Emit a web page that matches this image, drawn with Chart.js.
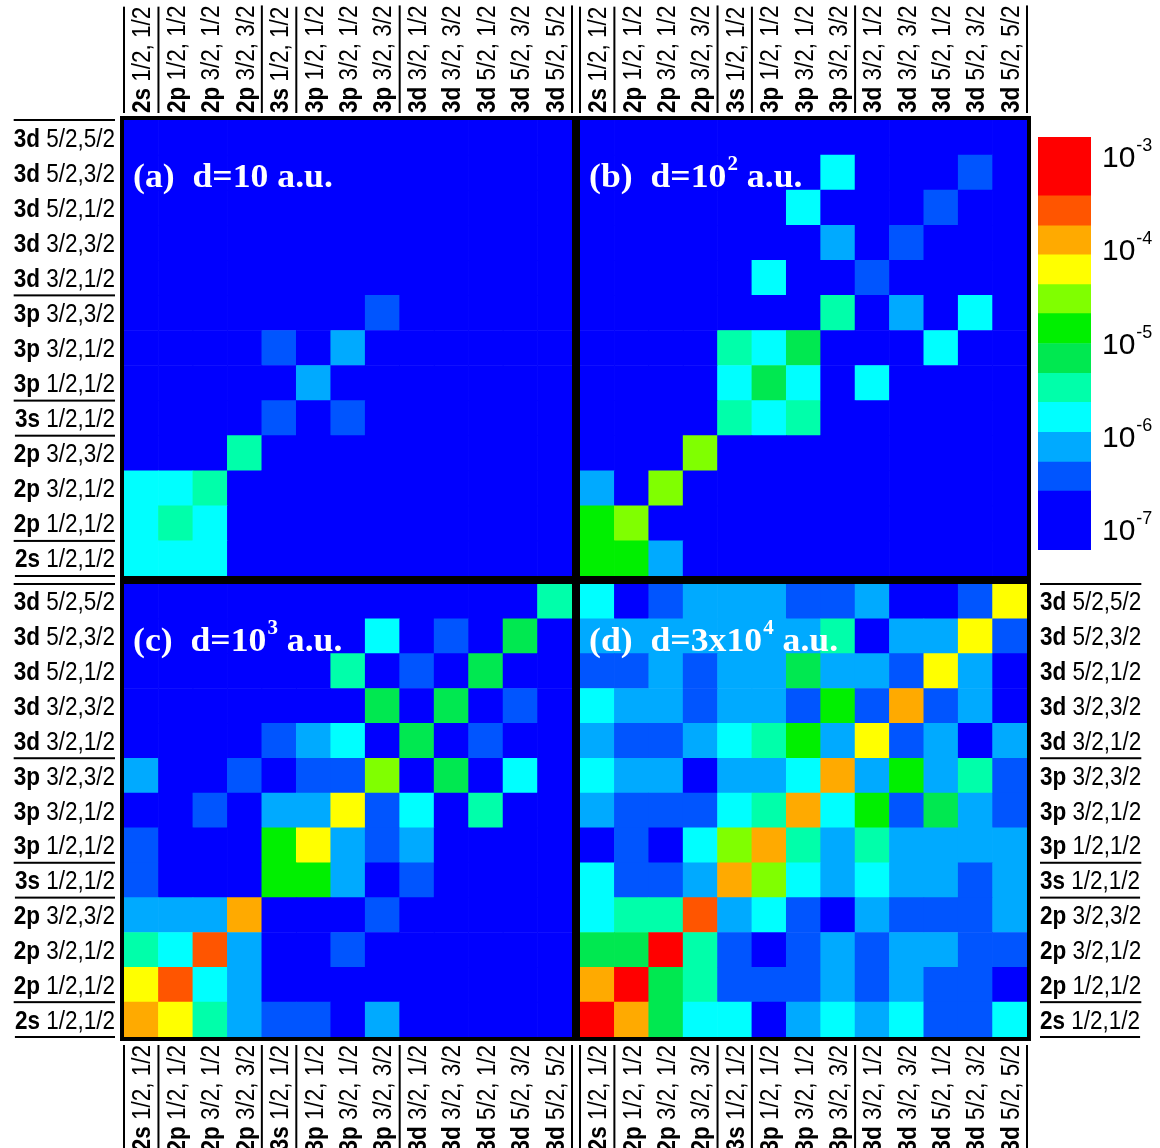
<!DOCTYPE html>
<html>
<head>
<meta charset="utf-8">
<script src="https://cdn.jsdelivr.net/npm/chart.js@4.4.1/dist/chart.umd.min.js"></script>
<style>
  body { margin: 0; background: #fff; }
  #wrap { position: relative; width: 1160px; height: 1148px; overflow: hidden; }
  #wrap canvas { position: absolute; }
</style>
</head>
<body>
<div id="wrap">
  <canvas id="panelA" width="578" height="580" style="left:0px;top:0px"></canvas>
  <canvas id="panelB" width="464" height="580" style="left:576px;top:0px"></canvas>
  <canvas id="panelC" width="578" height="570" style="left:0px;top:578px"></canvas>
  <canvas id="panelD" width="584" height="570" style="left:576px;top:578px"></canvas>
  <canvas id="scaleBar" width="130" height="450" style="left:1030px;top:120px"></canvas>
</div>
<script>
// states, bottom row / left column first
const shells = ['2s','2p','2p','2p','3s','3p','3p','3p','3d','3d','3d','3d','3d'];
const rowJ = ['1/2,1/2','1/2,1/2','3/2,1/2','3/2,3/2','1/2,1/2','1/2,1/2','3/2,1/2','3/2,3/2','3/2,1/2','3/2,3/2','5/2,1/2','5/2,3/2','5/2,5/2'];
const colJ = ['1/2, 1/2','1/2, 1/2','3/2, 1/2','3/2, 3/2','1/2, 1/2','1/2, 1/2','3/2, 1/2','3/2, 3/2','3/2, 1/2','3/2, 3/2','5/2, 1/2','5/2, 3/2','5/2, 5/2'];

// log10 of each cell, rows written from the top state (3d 5/2,5/2) down to 2s 1/2,1/2
const panelA = [
  [-7,-7,-7,-7,-7,-7,-7,-7,-7,-7,-7,-7,-7],
  [-7,-7,-7,-7,-7,-7,-7,-7,-7,-7,-7,-7,-7],
  [-7,-7,-7,-7,-7,-7,-7,-7,-7,-7,-7,-7,-7],
  [-7,-7,-7,-7,-7,-7,-7,-7,-7,-7,-7,-7,-7],
  [-7,-7,-7,-7,-7,-7,-7,-7,-7,-7,-7,-7,-7],
  [-7,-7,-7,-7,-7,-7,-7,-6.4,-7,-7,-7,-7,-7],
  [-7,-7,-7,-7,-6.4,-7,-6.1,-7,-7,-7,-7,-7,-7],
  [-7,-7,-7,-7,-7,-6.1,-7,-7,-7,-7,-7,-7,-7],
  [-7,-7,-7,-7,-6.4,-7,-6.4,-7,-7,-7,-7,-7,-7],
  [-7,-7,-7,-5.5,-7,-7,-7,-7,-7,-7,-7,-7,-7],
  [-5.8,-5.8,-5.5,-7,-7,-7,-7,-7,-7,-7,-7,-7,-7],
  [-5.8,-5.5,-5.8,-7,-7,-7,-7,-7,-7,-7,-7,-7,-7],
  [-5.8,-5.8,-5.8,-7,-7,-7,-7,-7,-7,-7,-7,-7,-7]
];
const panelB = [
  [-7,-7,-7,-7,-7,-7,-7,-7,-7,-7,-7,-7,-7],
  [-7,-7,-7,-7,-7,-7,-7,-5.8,-7,-7,-7,-6.4,-7],
  [-7,-7,-7,-7,-7,-7,-5.8,-7,-7,-7,-6.4,-7,-7],
  [-7,-7,-7,-7,-7,-7,-7,-6.1,-7,-6.4,-7,-7,-7],
  [-7,-7,-7,-7,-7,-5.8,-7,-7,-6.4,-7,-7,-7,-7],
  [-7,-7,-7,-7,-7,-7,-7,-5.5,-7,-6.1,-7,-5.8,-7],
  [-7,-7,-7,-7,-5.5,-5.8,-5.2,-7,-7,-7,-5.8,-7,-7],
  [-7,-7,-7,-7,-5.8,-5.2,-5.8,-7,-5.8,-7,-7,-7,-7],
  [-7,-7,-7,-7,-5.5,-5.8,-5.5,-7,-7,-7,-7,-7,-7],
  [-7,-7,-7,-4.5,-7,-7,-7,-7,-7,-7,-7,-7,-7],
  [-6.1,-7,-4.5,-7,-7,-7,-7,-7,-7,-7,-7,-7,-7],
  [-4.9,-4.5,-7,-7,-7,-7,-7,-7,-7,-7,-7,-7,-7],
  [-4.9,-4.9,-6.1,-7,-7,-7,-7,-7,-7,-7,-7,-7,-7]
];
const panelC = [
  [-7,-7,-7,-7,-7,-7,-7,-7,-7,-7,-7,-7,-5.5],
  [-7,-7,-7,-7,-7,-7,-7,-5.8,-7,-6.4,-7,-5.2,-7],
  [-7,-7,-7,-7,-7,-7,-5.5,-7,-6.4,-7,-5.2,-7,-7],
  [-7,-7,-7,-7,-7,-7,-7,-5.2,-7,-5.2,-7,-6.4,-7],
  [-7,-7,-7,-7,-6.4,-6.1,-5.8,-7,-5.2,-7,-6.4,-7,-7],
  [-6.1,-7,-7,-6.4,-7,-6.4,-6.4,-4.5,-7,-5.2,-7,-5.8,-7],
  [-7,-7,-6.4,-7,-6.1,-6.1,-4.2,-6.4,-5.8,-7,-5.5,-7,-7],
  [-6.4,-7,-7,-7,-4.9,-4.2,-6.1,-6.4,-6.1,-7,-7,-7,-7],
  [-6.4,-7,-7,-7,-4.9,-4.9,-6.1,-7,-6.4,-7,-7,-7,-7],
  [-6.1,-6.1,-6.1,-3.9,-7,-7,-7,-6.4,-7,-7,-7,-7,-7],
  [-5.5,-5.8,-3.6,-6.1,-7,-7,-6.4,-7,-7,-7,-7,-7,-7],
  [-4.2,-3.6,-5.8,-6.1,-7,-7,-7,-7,-7,-7,-7,-7,-7],
  [-3.9,-4.2,-5.5,-6.1,-6.4,-6.4,-7,-6.1,-7,-7,-7,-7,-7]
];
const panelD = [
  [-5.8,-7,-6.4,-6.1,-6.1,-6.1,-6.4,-6.4,-6.1,-7,-7,-6.4,-4.2],
  [-6.1,-6.1,-6.1,-6.1,-6.1,-6.1,-6.1,-5.5,-7,-6.1,-6.1,-4.2,-6.4],
  [-6.4,-6.4,-6.1,-6.4,-6.1,-6.1,-5.2,-6.1,-6.1,-6.4,-4.2,-6.1,-7],
  [-5.8,-6.1,-6.1,-6.4,-6.1,-6.1,-6.4,-4.9,-6.4,-3.9,-6.4,-6.1,-7],
  [-6.1,-6.4,-6.4,-6.1,-5.8,-5.5,-4.9,-6.1,-4.2,-6.4,-6.1,-7,-6.1],
  [-5.8,-6.1,-6.1,-7,-6.1,-6.1,-5.8,-3.9,-6.1,-4.9,-6.1,-5.5,-6.4],
  [-6.1,-6.4,-6.4,-6.4,-5.8,-5.5,-3.9,-5.8,-4.9,-6.4,-5.2,-6.1,-6.4],
  [-7,-6.4,-7,-5.8,-4.5,-3.9,-5.5,-6.1,-5.5,-6.1,-6.1,-6.1,-6.1],
  [-5.8,-6.4,-6.4,-6.1,-3.9,-4.5,-5.8,-6.1,-5.8,-6.1,-6.1,-6.4,-6.1],
  [-5.8,-5.5,-5.5,-3.6,-6.1,-5.8,-6.4,-7,-6.1,-6.4,-6.4,-6.4,-6.1],
  [-5.2,-5.2,-3.2,-5.5,-6.4,-7,-6.4,-6.1,-6.4,-6.1,-6.1,-6.4,-6.4],
  [-3.9,-3.2,-5.2,-5.5,-6.4,-6.4,-6.4,-6.1,-6.4,-6.1,-6.4,-6.4,-7],
  [-3.2,-3.9,-5.2,-5.8,-5.8,-7,-6.1,-5.8,-6.1,-5.8,-6.4,-6.4,-5.8]
];

// colour bar: level edges (log10) and the colour of each level
const levelEdges = [-7.21,-6.9,-6.58,-6.27,-5.95,-5.63,-5.32,-5.0,-4.68,-4.37,-4.05,-3.74,-3.42,-3.1,-2.79];
const levelColors = ['#0000ff','#0000ff','#0055ff','#00aaff','#00ffff','#00ffaa','#00e850','#00f000','#80ff00','#ffff00','#ffaa00','#ff5500','#ff0000','#ff0000'];
const barTicks = [-7,-6,-5,-4,-3];

const labelFont = '"Liberation Sans", Arial, sans-serif';
const labelSize = 25;
const squeeze = 0.9;

function levelColor(v) {
  for (let k = 0; k < levelColors.length; k++) {
    if (v < levelEdges[k + 1]) return levelColors[k];
  }
  return levelColors[levelColors.length - 1];
}

function measureState(ctx, bold, rest) {
  ctx.font = 'bold ' + labelSize + 'px ' + labelFont;
  let wb = ctx.measureText(bold).width;
  ctx.font = labelSize + 'px ' + labelFont;
  let wr = ctx.measureText(rest).width;
  return [wb, wr];
}

function fillState(ctx, bold, rest, wb) {
  ctx.font = 'bold ' + labelSize + 'px ' + labelFont;
  ctx.fillText(bold, 0, 0);
  ctx.font = labelSize + 'px ' + labelFont;
  ctx.fillText(rest, wb, 0);
}

function rowLabels(ctx, ys, edge, side) {
  for (let i = 0; i < shells.length; i++) {
    let rest = ' ' + rowJ[i];
    let w = measureState(ctx, shells[i], rest);
    let len = (w[0] + w[1]) * squeeze;
    let x0 = side === 'right' ? edge - len : edge;
    ctx.save();
    ctx.translate(x0, ys.getPixelForValue(i + 0.5) + 9);
    ctx.scale(squeeze, 1);
    fillState(ctx, shells[i], rest, w[0]);
    ctx.restore();
    if (i === 0 || shells[i] !== shells[i - 1]) ctx.fillRect(x0, ys.getPixelForValue(i) - 1, len, 2);
    if (i === shells.length - 1) ctx.fillRect(x0, ys.getPixelForValue(i + 1) - 1, len, 2);
  }
}

function colLabels(ctx, xs, edge, side) {
  for (let i = 0; i < shells.length; i++) {
    let rest = ' ' + colJ[i];
    let w = measureState(ctx, shells[i], rest);
    let len = (w[0] + w[1]) * squeeze;
    let y0 = side === 'top' ? edge : edge + len;
    ctx.save();
    ctx.translate(xs.getPixelForValue(i) + 9, y0);
    ctx.rotate(-Math.PI / 2);
    ctx.scale(squeeze, 1);
    fillState(ctx, shells[i], rest, w[0]);
    ctx.restore();
    if (i === 0) ctx.fillRect(xs.getPixelForValue(i - 0.5) - 1, y0 - len, 2, len);
    if (i === shells.length - 1 || shells[i] !== shells[i + 1]) ctx.fillRect(xs.getPixelForValue(i + 0.5) - 1, y0 - len, 2, len);
  }
}

function drawTitle(ctx, a, o) {
  let serif = '"Liberation Serif", "Times New Roman", serif';
  ctx.save();
  ctx.fillStyle = '#fff';
  ctx.translate(a.left + 9, a.top + 67);
  ctx.scale(1.05, 1);
  ctx.font = 'bold 34px ' + serif;
  let head = o.name + '  d=' + o.dist;
  ctx.fillText(head, 0, 0);
  let x = ctx.measureText(head).width;
  if (o.power) {
    ctx.font = 'bold 20px ' + serif;
    ctx.fillText(o.power, x + 1, -17);
    x += ctx.measureText(o.power).width + 1;
    ctx.font = 'bold 34px ' + serif;
  }
  ctx.fillText(' a.u.', x, 0);
  ctx.restore();
}

const decor = {
  id: 'decor',
  afterDatasetsDraw(chart, args, o) {
    let ctx = chart.ctx, a = chart.chartArea;
    drawTitle(ctx, a, o);
    ctx.save();
    ctx.lineWidth = 4;
    ctx.strokeStyle = '#000';
    ctx.strokeRect(a.left - 2, a.top - 2, a.right - a.left + 4, a.bottom - a.top + 4);
    ctx.fillStyle = '#000';
    if (o.left) rowLabels(ctx, chart.scales.y, a.left - 9, 'right');
    if (o.right) rowLabels(ctx, chart.scales.y, a.right + 13, 'left');
    if (o.top) colLabels(ctx, chart.scales.x, a.top - 7, 'top');
    if (o.bottom) colLabels(ctx, chart.scales.x, a.bottom + 8, 'bottom');
    ctx.restore();
  }
};

function makePanel(id, values, deco, pad, xAxis, yAxis) {
  let rows = values.slice().reverse();
  return new Chart(document.getElementById(id), {
    type: 'bar',
    data: {
      labels: shells.map((s, i) => s + ' ' + colJ[i]),
      datasets: rows.map((row, r) => ({
        label: shells[r] + ' ' + rowJ[r],
        data: row.map(() => [r, r + 1]),
        backgroundColor: row.map(levelColor),
        borderWidth: 0,
        barPercentage: 1,
        categoryPercentage: 1
      }))
    },
    options: {
      responsive: false,
      animation: false,
      layout: { padding: pad },
      plugins: {
        legend: { display: false },
        tooltip: { enabled: false },
        decor: deco
      },
      scales: {
        x: {
          position: xAxis.pos,
          stacked: true,
          grid: { display: false },
          border: { display: false },
          ticks: { display: false },
          afterFit: s => { s.height = xAxis.size; }
        },
        y: {
          min: 0,
          max: 13,
          stacked: false,
          position: yAxis.pos,
          display: yAxis.size > 0,
          grid: { display: false },
          border: { display: false },
          ticks: { display: false },
          afterFit: s => { s.width = yAxis.size; }
        }
      }
    },
    plugins: [decor]
  });
}

makePanel('panelA', panelA, { name: '(a)', dist: '10', power: '', left: true, top: true },
  { left: 0, top: 0, right: 6, bottom: 4 }, { pos: 'top', size: 120 }, { pos: 'left', size: 124 });
makePanel('panelB', panelB, { name: '(b)', dist: '10', power: '2', top: true },
  { left: 4, top: 0, right: 13, bottom: 4 }, { pos: 'top', size: 120 }, { pos: 'left', size: 0 });
makePanel('panelC', panelC, { name: '(c)', dist: '10', power: '3', left: true, bottom: true },
  { left: 0, top: 6, right: 6, bottom: 0 }, { pos: 'bottom', size: 111 }, { pos: 'left', size: 124 });
makePanel('panelD', panelD, { name: '(d)', dist: '3x10', power: '4', right: true, bottom: true },
  { left: 4, top: 6, right: 0, bottom: 0 }, { pos: 'bottom', size: 111 }, { pos: 'right', size: 133 });

const barLabels = {
  id: 'barLabels',
  afterDraw(chart) {
    let ctx = chart.ctx, a = chart.chartArea, ys = chart.scales.y;
    ctx.save();
    ctx.fillStyle = '#000';
    barTicks.forEach(e => {
      let y = ys.getPixelForValue(e);
      ctx.font = '30px ' + labelFont;
      ctx.fillText('10', a.right + 11, y + 10);
      let w = ctx.measureText('10').width;
      ctx.font = '18px ' + labelFont;
      ctx.fillText(String(e), a.right + 12 + w, y - 6);
    });
    ctx.restore();
  }
};

new Chart(document.getElementById('scaleBar'), {
  type: 'bar',
  data: {
    labels: [''],
    datasets: levelColors.map((c, k) => ({
      data: [[levelEdges[k], levelEdges[k + 1]]],
      backgroundColor: c,
      borderWidth: 0,
      barPercentage: 1,
      categoryPercentage: 1
    }))
  },
  options: {
    responsive: false,
    animation: false,
    layout: { padding: { left: 8, top: 17, right: 0, bottom: 20 } },
    plugins: { legend: { display: false }, tooltip: { enabled: false } },
    scales: {
      x: { stacked: true, display: false },
      y: {
        min: levelEdges[0],
        max: levelEdges[levelEdges.length - 1],
        stacked: false,
        position: 'right',
        grid: { display: false },
        border: { display: false },
        ticks: { display: false },
        afterFit: s => { s.width = 69; }
      }
    }
  },
  plugins: [barLabels]
});
</script>
</body>
</html>
